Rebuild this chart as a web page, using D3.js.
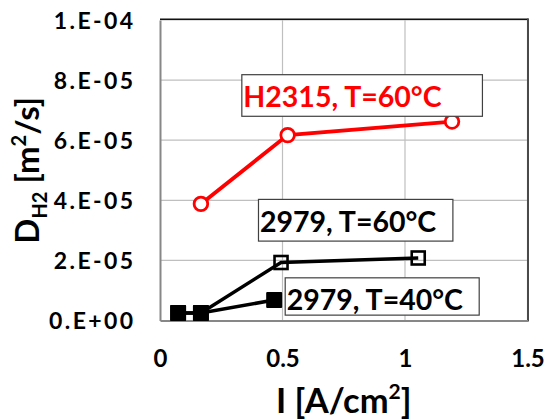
<!DOCTYPE html>
<html>
<head>
<meta charset="utf-8">
<script src="https://cdn.jsdelivr.net/npm/d3@7"></script>
<style>
  html, body { margin: 0; padding: 0; background: #fff; }
  svg { display: block; font-family: Lato, "Open Sans", sans-serif; font-weight: bold; }
</style>
</head>
<body>
<svg id="chart" width="546" height="420"></svg>
<script>
// Current density I [A/cm²] and hydrogen diffusivity D_H2 [m²/s]
const h2315_60_I = [0.167, 0.521, 1.192];
const h2315_60_D = [3.88e-5, 6.17e-5, 6.62e-5];

const m2979_60_I = [0.074, 0.167, 0.494, 1.054];
const m2979_60_D = [2.5e-6, 2.5e-6, 1.93e-5, 2.08e-5];

const m2979_40_I = [0.074, 0.167, 0.466];
const m2979_40_D = [2.5e-6, 2.5e-6, 6.8e-6];

const seriesNames = ["H2315, T=60°C", "2979, T=60°C", "2979, T=40°C"];

const xTicks = [0, 0.5, 1, 1.5];
const xTickLabels = ["0", "0.5", "1", "1.5"];
const yTicks = [0, 2e-5, 4e-5, 6e-5, 8e-5, 1e-4];
const yTickLabels = ["0.E+00", "2.E-05", "4.E-05", "6.E-05", "8.E-05", "1.E-04"];

const svg = d3.select("#chart");
const plot = { left: 160, right: 527.5, top: 20, bottom: 320.5 };

const x = d3.scaleLinear().domain([0, 1.5]).range([plot.left, plot.right]);
const y = d3.scaleLinear().domain([0, 1e-4]).range([plot.bottom, plot.top]);

// gridlines
const grid = svg.append("g");
grid.selectAll("line.gx").data(xTicks.slice(1)).join("line")
  .attr("x1", d => x(d)).attr("x2", d => x(d))
  .attr("y1", plot.top).attr("y2", plot.bottom)
  .attr("stroke", "#bfbfbf").attr("stroke-width", 1.2);
grid.selectAll("line.gy").data(yTicks.slice(1)).join("line")
  .attr("x1", plot.left).attr("x2", plot.right)
  .attr("y1", d => y(d)).attr("y2", d => y(d))
  .attr("stroke", "#bfbfbf").attr("stroke-width", 1.2);

// plot frame: top and right edges
svg.append("line").attr("x1", plot.left).attr("x2", plot.right + 1)
  .attr("y1", plot.top - 0.8).attr("y2", plot.top - 0.8)
  .attr("stroke", "#111").attr("stroke-width", 1.6);
svg.append("line").attr("x1", plot.right + 0.5).attr("x2", plot.right + 0.5)
  .attr("y1", plot.top - 1.5).attr("y2", plot.bottom + 1)
  .attr("stroke", "#4a4a4a").attr("stroke-width", 2);

// axes
const xAxis = d3.axisBottom(x).tickValues(xTicks).tickSize(0)
  .tickFormat((d, i) => xTickLabels[i]);
const gx = svg.append("g").attr("transform", `translate(0,${plot.bottom})`).call(xAxis);
gx.select(".domain").attr("stroke", "#878787").attr("stroke-width", 2);
gx.selectAll("text").attr("font-size", 24).attr("font-family", "Lato")
  .attr("font-weight", "bold").attr("fill", "#000").attr("y", 46).attr("dy", 0);

const yAxis = d3.axisLeft(y).tickValues(yTicks).tickSize(0)
  .tickFormat((d, i) => yTickLabels[i]);
const gy = svg.append("g").attr("transform", `translate(${plot.left},0)`).call(yAxis);
gy.select(".domain").attr("stroke", "#878787").attr("stroke-width", 2);
gy.selectAll("text").attr("font-size", 23).attr("font-family", "Lato")
  .attr("font-weight", "bold").attr("letter-spacing", 2.4).attr("fill", "#000")
  .attr("x", -24.5).attr("dy", "0.36em");

// axis titles
const xt = svg.append("text").attr("x", (plot.left + plot.right) / 2).attr("y", 412.5)
  .attr("text-anchor", "middle").attr("font-size", 34.5).attr("fill", "#000");
xt.append("tspan").text("I [A/cm");
xt.append("tspan").attr("font-size", 21).attr("dy", -14).text("2");
xt.append("tspan").attr("dy", 14).text("]");

const yt = svg.append("text")
  .attr("transform", `translate(38.5,${(plot.top + plot.bottom) / 2}) rotate(-90)`)
  .attr("text-anchor", "middle").attr("font-size", 33).attr("fill", "#000");
yt.append("tspan").text("D");
yt.append("tspan").attr("font-size", 20).attr("dy", 8).text("H2");
yt.append("tspan").attr("dy", -8).text(" [m");
yt.append("tspan").attr("font-size", 20).attr("dy", -13).text("2");
yt.append("tspan").attr("dy", 13).text("/s]");

const line = d3.line().x(d => x(d[0])).y(d => y(d[1]));

// 2979, 60 °C — open squares
const s60 = d3.zip(m2979_60_I, m2979_60_D);
svg.append("path").datum(s60).attr("d", line)
  .attr("fill", "none").attr("stroke", "#000").attr("stroke-width", 3.5);
svg.selectAll("rect.o60").data(s60).join("rect")
  .attr("x", d => x(d[0]) - 6.5).attr("y", d => y(d[1]) - 6.5)
  .attr("width", 13).attr("height", 13)
  .attr("fill", "none").attr("stroke", "#000").attr("stroke-width", 2.6);

// 2979, 40 °C — filled squares
const s40 = d3.zip(m2979_40_I, m2979_40_D);
svg.append("path").datum(s40).attr("d", line)
  .attr("fill", "none").attr("stroke", "#000").attr("stroke-width", 3.5);
svg.selectAll("rect.f40").data(s40).join("rect")
  .attr("x", d => x(d[0]) - 8).attr("y", d => y(d[1]) - 8)
  .attr("width", 16).attr("height", 16).attr("rx", 1)
  .attr("fill", "#000");

// H2315, 60 °C — open circles
const sH = d3.zip(h2315_60_I, h2315_60_D);
svg.append("path").datum(sH).attr("d", line)
  .attr("fill", "none").attr("stroke", "#ff0000").attr("stroke-width", 3.8);
svg.selectAll("circle.h").data(sH).join("circle")
  .attr("cx", d => x(d[0])).attr("cy", d => y(d[1])).attr("r", 6.8)
  .attr("fill", "#fff").attr("stroke", "#ff0000").attr("stroke-width", 2.8);

// series label boxes, anchored in data coordinates
const labels = [
  { name: seriesNames[0], x0: 0.334, y0: 8.18e-5, w: 240.6, h: 41.6, base: 32.6, color: "#ff0000" },
  { name: seriesNames[1], x0: 0.402, y0: 4.03e-5, w: 194.4, h: 41.7, base: 32.4, color: "#000" },
  { name: seriesNames[2], x0: 0.511, y0: 1.42e-5, w: 194, h: 37.3, base: 32.3, color: "#000" }
];
labels.forEach(l => {
  const g = svg.append("g").attr("transform", `translate(${x(l.x0)},${y(l.y0)})`);
  g.append("rect").attr("width", l.w).attr("height", l.h)
    .attr("fill", "#fff").attr("stroke", "#404040").attr("stroke-width", 1.2);
  g.append("text").attr("x", 1.5).attr("y", l.base)
    .attr("font-size", 28.5).attr("fill", l.color).text(l.name);
});
</script>
</body>
</html>
